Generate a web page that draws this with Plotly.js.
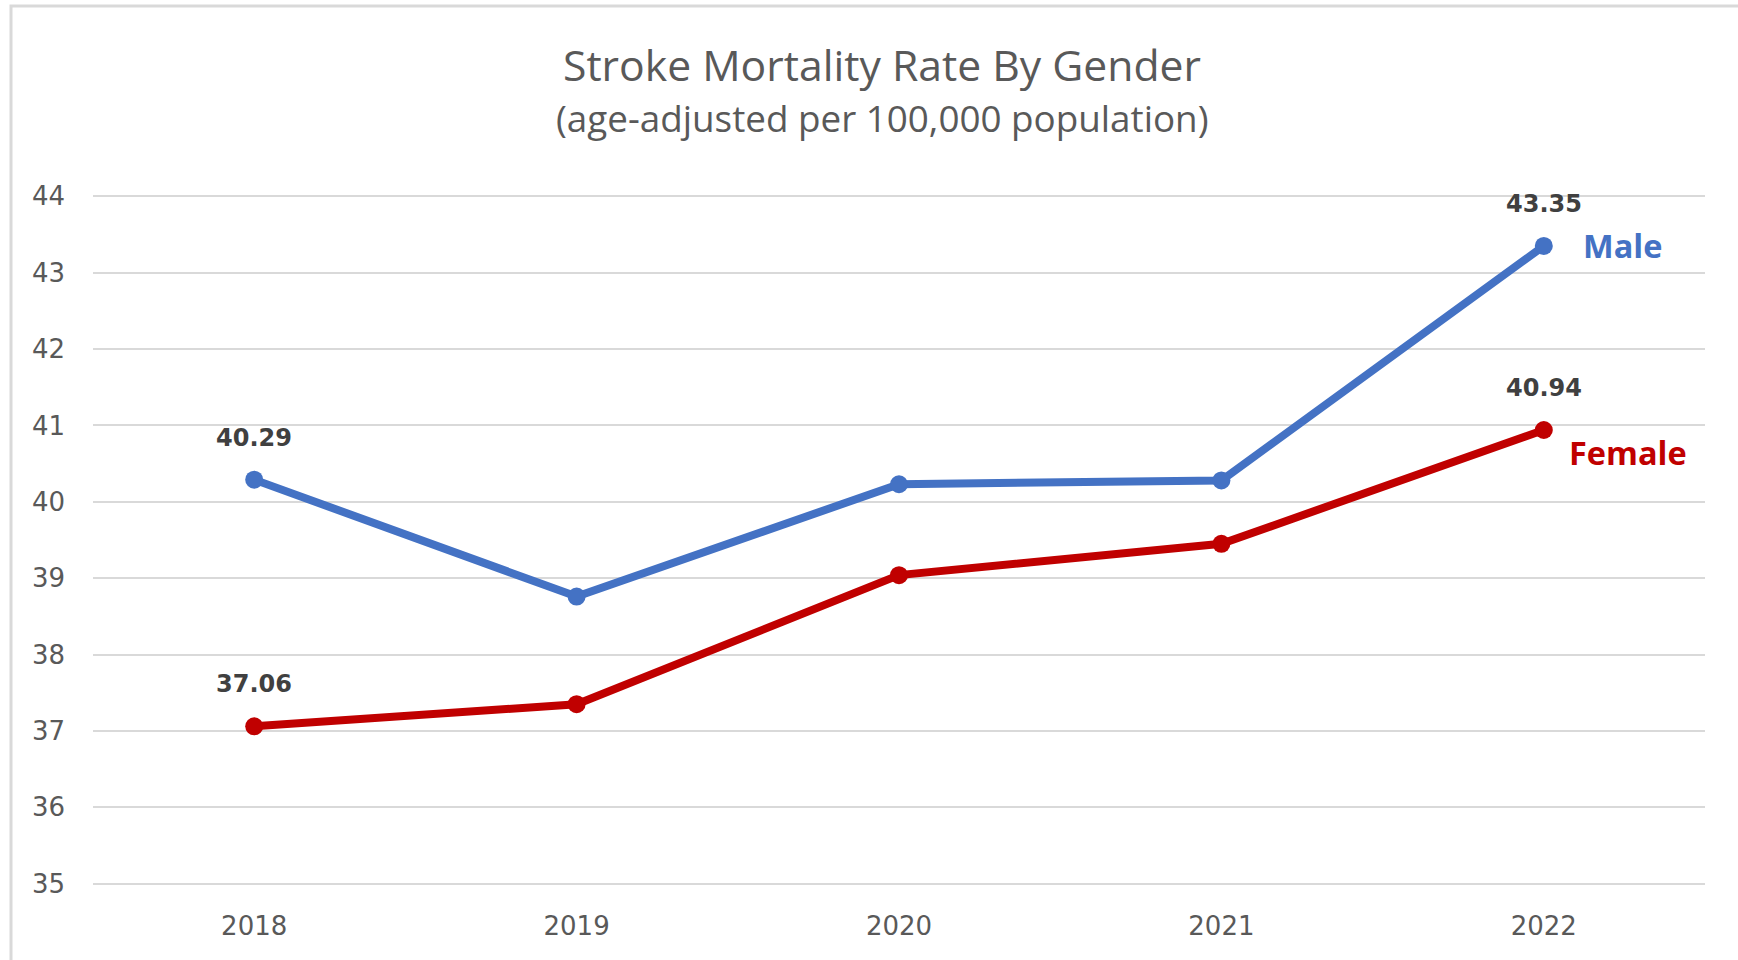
<!DOCTYPE html>
<html>
<head>
<meta charset="utf-8">
<script src="https://cdn.plot.ly/plotly-3.0.1.min.js"></script>
<style>
  html, body { margin: 0; padding: 0; background: #ffffff; }
  #chart { width: 1738px; height: 960px; }
</style>
</head>
<body>
<div id="chart"></div>
<script>
// ---- data ----
const years = ["2018", "2019", "2020", "2021", "2022"];
const maleRates = [40.29, 38.76, 40.23, 40.28, 43.35];
const femaleRates = [37.06, 37.35, 39.04, 39.45, 40.94];
const seriesNames = ["Male", "Female"];
const yTicks = [35, 36, 37, 38, 39, 40, 41, 42, 43, 44];
const titleText = "Stroke Mortality Rate By Gender";
const subtitleText = "(age-adjusted per 100,000 population)";

// ---- styles ----
const W = 1738, H = 960;
const M = { l: 93, r: 33, t: 194, b: 74 };
const PAD = 0.03;
const BLUE = "#4472C4", RED = "#C00000";
const LABEL = "#404040", TICK = "#595959", GRID = "#D9D9D9";

function pxX(px) { return (px - M.l) / (W - M.l - M.r); }
function pxY(py) { return (H - M.b - py) / (H - M.t - M.b); }

function line(name, ys, color) {
  return {
    type: "scatter", mode: "lines+markers", name: name,
    x: years, y: ys,
    line: { color: color, width: 8 },
    marker: { color: color, size: 18 },
    hoverinfo: "skip", cliponaxis: false
  };
}

const traces = [line(seriesNames[0], maleRates, BLUE), line(seriesNames[1], femaleRates, RED)];

const annotations = [];
[maleRates, femaleRates].forEach(function (arr) {
  [0, arr.length - 1].forEach(function (i) {
    annotations.push({
      x: i, y: arr[i], xref: "x", yref: "y",
      text: "<b>" + arr[i].toFixed(2) + "</b>",
      showarrow: false, yshift: 42,
      font: { family: "DejaVu Sans", size: 24, color: LABEL }
    });
  });
});
const last = years.length - 1;
annotations.push({
  x: last, y: maleRates[last], xref: "x", yref: "y",
  text: "<b>" + seriesNames[0] + "</b>", showarrow: false,
  xanchor: "left", xshift: 37, yshift: 0,
  font: { family: "Open Sans", size: 32.5, color: BLUE }
});
annotations.push({
  x: last, y: femaleRates[last], xref: "x", yref: "y",
  text: "<b>" + seriesNames[1] + "</b>", showarrow: false,
  xanchor: "left", xshift: 23, yshift: -22,
  font: { family: "Open Sans", size: 32.5, color: RED }
});
annotations.push({
  x: pxX(882), y: pxY(118), xref: "paper", yref: "paper",
  text: subtitleText, showarrow: false, xanchor: "center", yanchor: "middle",
  font: { family: "Open Sans", size: 36.8, color: TICK }
});

const layout = {
  width: W, height: H,
  margin: M,
  paper_bgcolor: "#ffffff", plot_bgcolor: "#ffffff",
  showlegend: false,
  title: {
    text: titleText, x: 882 / W, xref: "container", xanchor: "center",
    y: 1 - 66 / H, yref: "container", yanchor: "middle",
    font: { family: "Open Sans", size: 42.7, color: TICK }
  },
  xaxis: {
    type: "category", categoryorder: "array", categoryarray: years,
    range: [-0.5, years.length - 0.5],
    showgrid: false, zeroline: false, showline: false, ticks: "",
    ticklabelstandoff: 22,
    tickfont: { family: "DejaVu Sans", size: 26, color: TICK }
  },
  yaxis: {
    range: [yTicks[0] - PAD, yTicks[yTicks.length - 1] + PAD],
    tickvals: yTicks,
    showgrid: true, gridcolor: GRID, gridwidth: 2,
    zeroline: false, showline: false, ticks: "",
    ticklabelstandoff: 27,
    tickfont: { family: "DejaVu Sans", size: 26, color: TICK }
  },
  annotations: annotations,
  shapes: [{
    type: "rect", xref: "paper", yref: "paper",
    x0: pxX(11), x1: pxX(1760), y0: pxY(980), y1: pxY(6),
    line: { color: GRID, width: 3 }, fillcolor: "rgba(0,0,0,0)", layer: "below"
  }]
};

Plotly.newPlot("chart", traces, layout, { displayModeBar: false, staticPlot: true });
</script>
</body>
</html>
